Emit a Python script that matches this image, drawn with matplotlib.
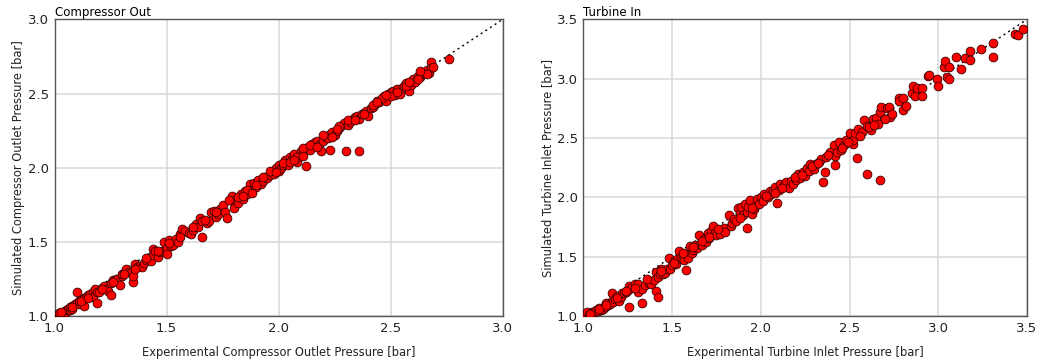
"""Simulated vs experimental pressure: compressor outlet and turbine inlet"""
import matplotlib
matplotlib.use('Agg')
import matplotlib.pyplot as plt

# --- Compressor outlet (experimental, simulated) [bar]
comp_exp = [
    1.00, 1.00, 1.01, 1.02, 1.02, 1.03, 1.04, 1.04, 1.05, 1.05,
    1.06, 1.06, 1.07, 1.07, 1.08, 1.08, 1.09, 1.10, 1.10, 1.11,
    1.11, 1.12, 1.13, 1.13, 1.14, 1.15, 1.16, 1.17, 1.17, 1.18,
    1.19, 1.19, 1.20, 1.21, 1.22, 1.23, 1.24, 1.25, 1.25, 1.26,
    1.27, 1.28, 1.29, 1.30, 1.30, 1.31, 1.32, 1.33, 1.34, 1.35,
    1.35, 1.36, 1.37, 1.38, 1.39, 1.40, 1.41, 1.42, 1.43, 1.44,
    1.44, 1.45, 1.46, 1.47, 1.48, 1.49, 1.50, 1.50, 1.51, 1.52,
    1.53, 1.54, 1.55, 1.56, 1.57, 1.58, 1.60, 1.61, 1.62, 1.63,
    1.64, 1.65, 1.66, 1.66, 1.68, 1.69, 1.70, 1.71, 1.72, 1.73,
    1.74, 1.75, 1.76, 1.77, 1.79, 1.80, 1.80, 1.81, 1.82, 1.83,
    1.84, 1.85, 1.86, 1.87, 1.88, 1.89, 1.90, 1.91, 1.92, 1.93,
    1.94, 1.95, 1.96, 1.97, 1.98, 1.99, 2.00, 2.00, 2.01, 2.02,
    2.03, 2.04, 2.05, 2.06, 2.07, 2.08, 2.09, 2.10, 2.11, 2.12,
    2.13, 2.14, 2.15, 2.16, 2.17, 2.18, 2.19, 2.20, 2.21, 2.22,
    2.23, 2.23, 2.24, 2.25, 2.26, 2.27, 2.28, 2.29, 2.30, 2.31,
    2.32, 2.33, 2.34, 2.35, 2.36, 2.36, 2.37, 2.38, 2.39, 2.40,
    2.41, 2.42, 2.43, 2.44, 2.45, 2.46, 2.47, 2.48, 2.49, 2.50,
    2.51, 2.52, 2.53, 2.54, 2.55, 2.56, 2.57, 2.58, 2.59, 2.60,
    2.61, 2.62, 2.63, 2.64, 2.65, 2.66, 2.67, 2.68, 2.68, 2.69,
    2.76, 1.03, 1.08, 1.12, 1.15, 1.21, 1.26, 1.31, 1.36, 1.41,
    1.46, 1.51, 1.56, 1.62, 1.67, 1.72, 1.78, 1.82, 1.86, 1.90,
    1.93, 1.96, 1.99, 2.02, 2.05, 2.08, 2.11, 2.14, 2.17, 2.20,
    2.24, 2.27, 2.31, 2.34, 2.38, 2.42, 2.46, 2.50, 2.53, 2.57,
    2.62, 2.66, 1.88, 1.84, 2.07, 2.11, 2.26, 2.44, 2.48, 2.58,
    2.63,
]
comp_sim = [
    1.00, 1.00, 1.00, 1.01, 1.02, 1.01, 1.03, 1.02, 1.04, 1.03,
    1.04, 1.05, 1.04, 1.06, 1.07, 1.05, 1.08, 1.09, 1.16, 1.08,
    1.10, 1.11, 1.12, 1.07, 1.13, 1.14, 1.15, 1.16, 1.13, 1.18,
    1.16, 1.09, 1.16, 1.19, 1.20, 1.18, 1.17, 1.14, 1.22, 1.24,
    1.24, 1.25, 1.21, 1.27, 1.28, 1.29, 1.32, 1.30, 1.29, 1.23,
    1.27, 1.35, 1.33, 1.34, 1.33, 1.36, 1.38, 1.39, 1.37, 1.45,
    1.41, 1.44, 1.40, 1.43, 1.44, 1.50, 1.46, 1.42, 1.51, 1.47,
    1.48, 1.52, 1.50, 1.55, 1.59, 1.57, 1.56, 1.55, 1.58, 1.62,
    1.60, 1.66, 1.53, 1.64, 1.63, 1.64, 1.70, 1.71, 1.67, 1.69,
    1.72, 1.75, 1.70, 1.66, 1.81, 1.77, 1.73, 1.79, 1.76, 1.82,
    1.79, 1.84, 1.82, 1.89, 1.85, 1.90, 1.87, 1.92, 1.89, 1.91,
    1.94, 1.93, 1.95, 1.97, 1.96, 2.00, 2.02, 1.98, 2.00, 2.02,
    2.05, 2.02, 2.07, 2.06, 2.09, 2.04, 2.08, 2.11, 2.10, 2.01,
    2.14, 2.12, 2.16, 2.17, 2.18, 2.15, 2.11, 2.18, 2.21, 2.20,
    2.23, 2.12, 2.24, 2.22, 2.25, 2.27, 2.28, 2.30, 2.11, 2.29,
    2.31, 2.33, 2.34, 2.35, 2.33, 2.11, 2.36, 2.37, 2.38, 2.35,
    2.40, 2.41, 2.43, 2.45, 2.44, 2.46, 2.48, 2.45, 2.50, 2.51,
    2.52, 2.49, 2.53, 2.50, 2.54, 2.55, 2.57, 2.52, 2.56, 2.60,
    2.58, 2.62, 2.61, 2.63, 2.64, 2.66, 2.64, 2.71, 2.67, 2.68,
    2.73, 1.03, 1.06, 1.10, 1.12, 1.18, 1.23, 1.28, 1.32, 1.39,
    1.44, 1.49, 1.53, 1.60, 1.65, 1.70, 1.78, 1.80, 1.85, 1.88,
    1.94, 1.98, 1.97, 2.03, 2.04, 2.07, 2.13, 2.15, 2.14, 2.22,
    2.21, 2.28, 2.32, 2.32, 2.36, 2.42, 2.47, 2.48, 2.51, 2.55,
    2.60, 2.63, 1.83, 1.81, 2.05, 2.08, 2.26, 2.44, 2.49, 2.58,
    2.65,
]

# --- Turbine inlet (experimental, simulated) [bar]
turb_exp = [
    1.01, 1.02, 1.03, 1.04, 1.05, 1.06, 1.07, 1.08, 1.09, 1.10,
    1.11, 1.12, 1.13, 1.14, 1.15, 1.16, 1.16, 1.17, 1.18, 1.19,
    1.20, 1.21, 1.22, 1.23, 1.24, 1.25, 1.26, 1.26, 1.27, 1.29,
    1.31, 1.31, 1.33, 1.33, 1.35, 1.37, 1.38, 1.40, 1.41, 1.41,
    1.42, 1.42, 1.43, 1.44, 1.45, 1.46, 1.47, 1.48, 1.49, 1.50,
    1.51, 1.52, 1.53, 1.54, 1.55, 1.56, 1.57, 1.58, 1.58, 1.59,
    1.60, 1.61, 1.62, 1.63, 1.64, 1.65, 1.66, 1.67, 1.68, 1.69,
    1.70, 1.71, 1.72, 1.73, 1.74, 1.75, 1.77, 1.79, 1.80, 1.82,
    1.83, 1.84, 1.85, 1.86, 1.87, 1.88, 1.89, 1.90, 1.91, 1.92,
    1.92, 1.93, 1.94, 1.95, 1.96, 1.97, 1.98, 1.99, 2.00, 2.01,
    2.02, 2.04, 2.05, 2.06, 2.07, 2.08, 2.09, 2.10, 2.11, 2.13,
    2.14, 2.16, 2.17, 2.18, 2.20, 2.21, 2.22, 2.24, 2.25, 2.26,
    2.27, 2.28, 2.30, 2.31, 2.33, 2.34, 2.35, 2.36, 2.37, 2.39,
    2.41, 2.42, 2.42, 2.43, 2.44, 2.45, 2.47, 2.48, 2.50, 2.52,
    2.52, 2.53, 2.54, 2.55, 2.57, 2.58, 2.60, 2.60, 2.62, 2.63,
    2.65, 2.66, 2.67, 2.67, 2.68, 2.71, 2.72, 2.73, 2.74, 2.78,
    2.78, 2.80, 2.80, 2.82, 2.85, 2.86, 2.87, 2.88, 2.91, 2.91,
    2.94, 2.95, 2.99, 3.00, 3.03, 3.04, 3.05, 3.06, 3.06, 3.10,
    3.13, 3.15, 3.18, 3.18, 3.24, 3.31, 3.31, 3.43, 3.45, 3.48,
    1.04, 1.09, 1.13, 1.19, 1.24, 1.29, 1.36, 1.44, 1.51, 1.56,
    1.62, 1.67, 1.71, 1.76, 1.88, 1.95, 2.03, 2.08, 2.12, 2.19,
    2.23, 2.29, 2.32, 2.38, 2.46, 2.49, 2.56, 2.61, 2.64, 2.70,
]
turb_sim = [
    1.01, 1.03, 1.01, 1.02, 1.03, 1.03, 1.05, 1.04, 1.07, 1.05,
    1.06, 1.08, 1.11, 1.09, 1.10, 1.13, 1.19, 1.12, 1.14, 1.17,
    1.13, 1.16, 1.19, 1.19, 1.20, 1.22, 1.25, 1.08, 1.24, 1.27,
    1.27, 1.20, 1.23, 1.11, 1.26, 1.28, 1.27, 1.30, 1.37, 1.21,
    1.33, 1.16, 1.35, 1.40, 1.35, 1.36, 1.40, 1.49, 1.40, 1.43,
    1.46, 1.44, 1.48, 1.55, 1.50, 1.51, 1.47, 1.52, 1.39, 1.49,
    1.59, 1.53, 1.56, 1.60, 1.57, 1.68, 1.61, 1.60, 1.65, 1.62,
    1.70, 1.66, 1.72, 1.76, 1.70, 1.68, 1.69, 1.74, 1.71, 1.85,
    1.76, 1.78, 1.82, 1.80, 1.91, 1.87, 1.92, 1.85, 1.94, 1.88,
    1.74, 1.92, 1.98, 1.86, 1.90, 1.93, 1.99, 1.94, 2.00, 1.97,
    2.03, 2.00, 2.05, 2.03, 2.05, 2.09, 1.95, 2.06, 2.11, 2.10,
    2.13, 2.08, 2.14, 2.11, 2.15, 2.20, 2.16, 2.21, 2.18, 2.25,
    2.22, 2.28, 2.24, 2.28, 2.30, 2.32, 2.13, 2.21, 2.34, 2.38,
    2.44, 2.35, 2.27, 2.38, 2.47, 2.40, 2.44, 2.48, 2.54, 2.45,
    2.48, 2.54, 2.33, 2.58, 2.55, 2.65, 2.60, 2.20, 2.57, 2.66,
    2.67, 2.62, 2.72, 2.15, 2.76, 2.75, 2.76, 2.68, 2.70, 2.84,
    2.81, 2.84, 2.74, 2.77, 2.88, 2.94, 2.85, 2.92, 2.92, 2.85,
    3.02, 3.03, 3.00, 2.94, 3.10, 3.15, 3.01, 3.10, 3.00, 3.18,
    3.08, 3.17, 3.23, 3.16, 3.25, 3.30, 3.18, 3.38, 3.37, 3.42,
    1.02, 1.06, 1.09, 1.15, 1.21, 1.24, 1.31, 1.38, 1.45, 1.53,
    1.58, 1.63, 1.67, 1.73, 1.83, 1.91, 2.01, 2.04, 2.08, 2.17,
    2.19, 2.26, 2.29, 2.36, 2.42, 2.47, 2.52, 2.59, 2.61, 2.66,
]

panels = [
    ('Compressor Out', comp_exp, comp_sim, (1.0, 3.0), [1.0, 1.5, 2.0, 2.5, 3.0],
     'Experimental Compressor Outlet Pressure [bar]',
     'Simulated Compressor Outlet Pressure [bar]'),
    ('Turbine In', turb_exp, turb_sim, (1.0, 3.5), [1.0, 1.5, 2.0, 2.5, 3.0, 3.5],
     'Experimental Turbine Inlet Pressure [bar]',
     'Simulated Turbine Inlet Pressure [bar]'),
]
axes_pos = [[0.0522, 0.127, 0.4289, 0.8196], [0.5582, 0.127, 0.4246, 0.8196]]

fig = plt.figure(figsize=(10.45, 3.62), dpi=100)

for pos, (title, xs, ys, lim, ticks, xlabel, ylabel) in zip(axes_pos, panels):
    ax = fig.add_axes(pos)
    ax.plot(lim, lim, color='black', linestyle=(0, (1.5, 2.5)), linewidth=1.0, zorder=2)
    ax.scatter(xs, ys, s=40, facecolor='#ff0000', edgecolor='#3a0000',
               linewidth=0.6, zorder=3)
    ax.set_xlim(lim)
    ax.set_ylim(lim)
    ax.set_xticks(ticks)
    ax.set_yticks(ticks)
    ax.set_xticklabels(['%.1f' % t for t in ticks])
    ax.set_yticklabels(['%.1f' % t for t in ticks])
    ax.grid(True, color='#d9d9d9', linewidth=1.1, zorder=0)
    ax.set_axisbelow(True)
    ax.tick_params(length=0, labelsize=9.5, colors='#222222', pad=4)
    for sp in ax.spines.values():
        sp.set_color('#555555')
        sp.set_linewidth(1.0)
    ax.set_xlabel(xlabel, fontsize=8.3, color='#222222', labelpad=8)
    ax.set_ylabel(ylabel, fontsize=8.3, color='#222222', labelpad=2)
    ax.text(0.0, 1.0, title, transform=ax.transAxes, fontsize=8.5,
            ha='left', va='bottom', color='black')

fig.savefig('out.png', dpi=100)
